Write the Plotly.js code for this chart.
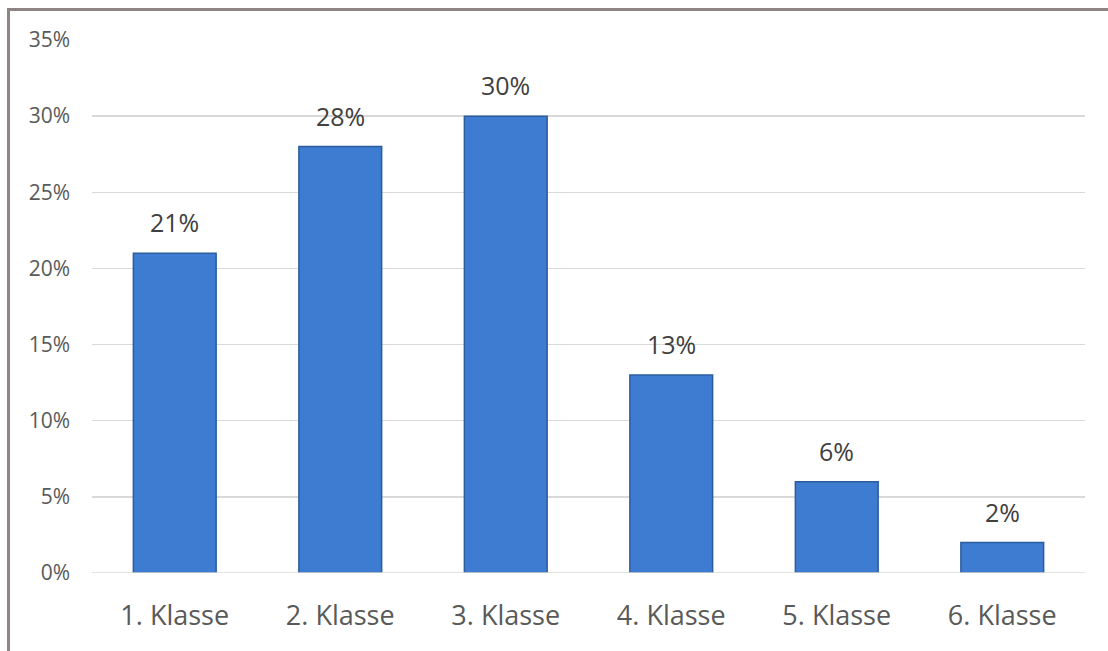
<!DOCTYPE html>
<html><head><meta charset="utf-8">
<script src="https://cdn.plot.ly/plotly-3.0.1.min.js"></script>
<style>
html,body{margin:0;padding:0;background:#fff;overflow:hidden;}
#frame{position:absolute;left:7px;top:8px;width:1200px;height:700px;border:3px solid #8c8582;box-sizing:border-box;}
#chart{position:absolute;left:0;top:0;width:1108px;height:651px;}
</style></head>
<body>
<div id="frame"></div>
<div id="chart"></div>
<script>
const categories = ["1. Klasse","2. Klasse","3. Klasse","4. Klasse","5. Klasse","6. Klasse"];
const values = [0.21, 0.28, 0.30, 0.13, 0.06, 0.02];
const labels = ["21%","28%","30%","13%","6%","2%"];
const tickVals = [0,0.05,0.10,0.15,0.20,0.25,0.30,0.35];
const tickText = ["0%","5%","10%","15%","20%","25%","30%","35%"];

const trace = {
  type:'bar', x:categories, y:values,
  marker:{color:'#3d7cd1', line:{color:'#2b5c9e', width:1.5}},
  width:0.5, hoverinfo:'skip'
};
const annotations = categories.map((c,i)=>({
  x:c, y:values[i], text:labels[i], showarrow:false, yanchor:'bottom', yshift:12,
  font:{family:'Open Sans, sans-serif', size:25, color:'#404040'}
}));
const layout = {
  width:1108, height:651,
  margin:{l:92, r:23, t:40, b:78},
  paper_bgcolor:'rgba(0,0,0,0)', plot_bgcolor:'rgba(0,0,0,0)',
  showlegend:false,
  xaxis:{type:'category', showgrid:false, zeroline:false, showline:false, ticks:'',
    tickfont:{family:'Open Sans, sans-serif', size:27, color:'#595959'}, ticklabelstandoff:24},
  yaxis:{range:[0,0.35], tickvals:tickVals, ticktext:tickText, showgrid:true, gridcolor:'#d9d9d9', gridwidth:1.5,
    zeroline:false, showline:false, ticks:'',
    tickfont:{family:'Open Sans, sans-serif', size:21, color:'#595959'}, ticklabelstandoff:21},
  shapes:[{type:'line', xref:'paper', yref:'y', x0:0, x1:1, y0:0, y1:0, line:{color:'#d9d9d9', width:1.5}}],
  annotations:annotations
};
Plotly.newPlot('chart',[trace],layout,{displayModeBar:false, staticPlot:true});
</script>
</body></html>
